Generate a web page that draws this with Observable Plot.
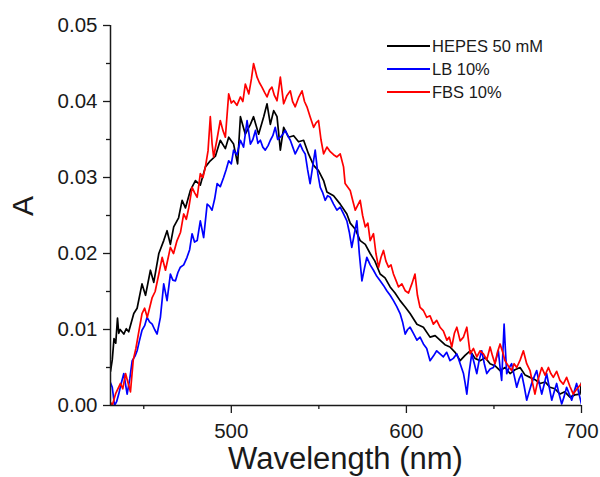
<!DOCTYPE html>
<html><head><meta charset="utf-8">
<script src="https://cdn.jsdelivr.net/npm/d3@7"></script>
<script src="https://cdn.jsdelivr.net/npm/@observablehq/plot@0.6"></script>
<style>
body{margin:0;background:#fff;}
#wrap{position:relative;width:600px;height:477px;font-family:"Liberation Sans",Arial,sans-serif;color:#1a1a1a;overflow:hidden;}
#wrap svg{position:absolute;left:0;top:0;}
.lg{position:absolute;left:387px;height:20px;display:flex;align-items:center;font-size:16.5px;white-space:nowrap;}
.lg span.sw{display:inline-block;width:43px;height:2px;margin-right:2px;}
#xl{position:absolute;left:110px;width:471px;top:443px;text-align:center;font-size:31px;line-height:31px;}
#yl{position:absolute;left:-7.5px;top:188.5px;width:60px;height:34px;line-height:34px;text-align:center;font-size:30px;transform:rotate(-90deg);}
</style></head><body><div id="wrap"></div>
<script>
const seriesNames = ["HEPES 50 mM", "LB 10%", "FBS 10%"];
const seriesColors = ["#000000", "#0000ff", "#ff0000"];
const xLabel = "Wavelength (nm)";
const yLabel = "A";
const xDomain = [431, 700];
const yDomain = [0, 0.05];
const xTicks = [500, 600, 700];
const xMinorTicks = [450, 550, 650];
const yTicks = [0, 0.01, 0.02, 0.03, 0.04, 0.05];
const yMinorTicks = [0.005, 0.015, 0.025, 0.035, 0.045];

const wlHepes = [431,432,433,434,435,435.7,436.5,438.6,440,441.4,444.3,446.2,449,451,453.8,455.7,458.6,461.4,463.3,465.2,467.1,469.9,471.9,473.8,476.6,479.5,482.3,485.2,488,490.9,493.7,496.6,498.5,501.3,503.6,505.2,508,510.9,512.7,515.6,518.5,520.4,522.3,524.2,526.1,528,529.9,532.7,535.6,538.4,541.3,544.1,547,549.8,552.7,554.6,558.4,562.2,566,567.9,570.8,573.6,576.5,579.3,582,585,587.8,590.7,593.5,596.4,599.2,602.1,606,609.7,613.5,616.4,619.2,622,624.9,627.8,630.7,633.5,636.4,639.2,642.1,645,647.8,650.7,653.5,656.4,659.2,662,664.9,667.8,670.6,673.5,676.3,679.2,682,684.8,687.7,690.5,693.4,696.2,699.1,700];
const aHepes = [0.0045,0.0060,0.0088,0.0082,0.0115,0.0095,0.0100,0.0094,0.0101,0.0097,0.0121,0.0128,0.0160,0.0145,0.0178,0.0162,0.0200,0.0217,0.0230,0.0212,0.0235,0.0247,0.0270,0.0260,0.0283,0.0296,0.0290,0.0314,0.0322,0.0328,0.0349,0.0338,0.0353,0.0344,0.0318,0.0380,0.0357,0.0370,0.0380,0.0357,0.0380,0.0397,0.0370,0.0388,0.0380,0.0336,0.0366,0.0353,0.0355,0.0347,0.0349,0.0331,0.0316,0.0309,0.0296,0.0281,0.0276,0.0265,0.0252,0.0240,0.0232,0.0217,0.0212,0.0200,0.0190,0.0173,0.0168,0.0156,0.0148,0.0138,0.0130,0.0121,0.0107,0.0103,0.0090,0.0092,0.0086,0.0080,0.0077,0.0070,0.0059,0.0066,0.0072,0.0062,0.0059,0.0063,0.0055,0.0052,0.0046,0.0050,0.0042,0.0047,0.0050,0.0040,0.0037,0.0034,0.0029,0.0031,0.0024,0.0022,0.0015,0.0018,0.0011,0.0014,0.0015,0.0030];

const wlLB = [431,432,433.3,434.5,435.7,437,438.6,440.5,442,443.4,445,446.2,447.5,449,450.5,451.9,453.3,454.8,456.2,457.6,459.5,461.4,463.3,465.2,466.6,468.1,469.5,470.9,472.8,474.7,476.2,477.6,479,480.5,482.3,484.2,486.2,487.6,489,490.5,491.9,493.7,495.6,497,498.5,500,501.3,503.2,505.2,507,509,510.9,512.3,513.8,515.2,516.6,518,519.4,521,522.3,523.7,525.1,526.5,528,529.4,530.8,532.2,533.7,535.1,536.5,538,539.3,540.8,542.2,543.6,545,546.5,547.9,549.4,550.8,552.2,553.6,555,556.5,558.4,560.3,562.2,564.1,566,567.4,568.8,570.2,571.7,573.1,574.6,576,577.4,579.3,581.2,583.1,585,586.9,588.8,590.7,592.6,594.5,596.4,597.8,599.3,600.7,602.1,604,606,607.8,609.7,611.6,613.5,615.4,617.3,619.2,621.1,623,624.9,626.8,628.8,630.7,632.6,633.5,634.5,635.9,637.3,638.8,640.2,641.6,643,644.5,645.9,647.8,649.7,651.1,652.5,653.5,654.4,655.1,655.8,656.5,657.3,658.7,660.1,661.5,663,664.4,665.8,667.3,668.7,670.1,671.5,673,674.4,675.8,677.3,678.7,680.1,681.5,683,684.4,685.8,687.2,688.7,690.1,691.5,693,694.4,695.8,697.2,698.6,700];
const aLB = [0.0030,0.0024,0.0000,0.0005,0.0015,0.0028,0.0042,0.0015,0.0035,0.0059,0.0065,0.0072,0.0085,0.0099,0.0105,0.0116,0.0110,0.0107,0.0100,0.0094,0.0116,0.0160,0.0138,0.0173,0.0165,0.0164,0.0175,0.0182,0.0185,0.0195,0.0205,0.0226,0.0215,0.0217,0.0243,0.0221,0.0265,0.0262,0.0257,0.0272,0.0292,0.0288,0.0300,0.0310,0.0322,0.0318,0.0336,0.0330,0.0349,0.0340,0.0375,0.0344,0.0350,0.0362,0.0345,0.0349,0.0340,0.0336,0.0342,0.0349,0.0355,0.0366,0.0350,0.0353,0.0357,0.0362,0.0355,0.0349,0.0340,0.0331,0.0338,0.0344,0.0336,0.0331,0.0310,0.0292,0.0315,0.0336,0.0305,0.0287,0.0280,0.0270,0.0276,0.0274,0.0265,0.0257,0.0261,0.0252,0.0243,0.0228,0.0208,0.0225,0.0243,0.0200,0.0164,0.0180,0.0195,0.0185,0.0178,0.0170,0.0164,0.0158,0.0151,0.0145,0.0138,0.0130,0.0121,0.0110,0.0094,0.0100,0.0103,0.0095,0.0086,0.0090,0.0081,0.0075,0.0059,0.0065,0.0072,0.0068,0.0064,0.0070,0.0059,0.0062,0.0068,0.0055,0.0042,0.0030,0.0015,0.0045,0.0068,0.0055,0.0042,0.0060,0.0072,0.0055,0.0042,0.0048,0.0050,0.0060,0.0072,0.0050,0.0033,0.0070,0.0107,0.0075,0.0042,0.0050,0.0055,0.0040,0.0024,0.0035,0.0042,0.0025,0.0007,0.0018,0.0029,0.0038,0.0046,0.0030,0.0015,0.0028,0.0042,0.0025,0.0007,0.0018,0.0029,0.0015,0.0002,0.0012,0.0024,0.0015,0.0007,0.0018,0.0029,0.0015,0.0002];

const wlFBS = [431.5,432,434,436.7,438,439.6,441,442.4,444,445.5,447,449,450.5,452,453.5,454.8,456.5,458.6,460.5,462.4,464,465.2,467,469,471,472.8,474.3,475.7,477.6,479,480.5,482.3,483.8,485.2,486.7,488,489,489.9,491.8,493.7,495.2,496.6,498.5,500,501.3,503.2,505.2,506.6,508,510,511.5,512.7,514.7,516,517.5,519,520.4,521.8,523.2,524.6,526.1,527,528,529.9,531.8,533.7,535,536.5,538.4,540.4,541.8,543.2,545,547,548.4,549.8,551.2,552.7,554.6,556.5,558.4,560.3,562.2,564.1,565,567.9,569.3,570.8,573.6,575,576.5,578,579.3,581.2,582.6,584.1,585.5,586.9,588.3,589.8,591.2,592.6,594,595.5,597.4,599.3,601.2,603.1,604.9,606.3,607.8,609.7,611.6,613.5,615.4,617.3,619.2,621.1,623.1,624.5,625.9,627.4,628.8,630.7,632.6,634.5,636.4,638.3,640.2,642.1,644,645.9,647.8,649.2,650.6,652,653.5,655,656.3,658.2,660.1,661.5,663,665,666.8,668.7,670.6,672,673.4,675.3,677.3,679.2,681.1,682.5,683.9,685.8,687.7,689.6,691.5,693.4,695.3,696.8,698.2,700];
const aFBS = [0.0003,0.0000,0.0016,0.0029,0.0022,0.0042,0.0030,0.0018,0.0060,0.0075,0.0095,0.0121,0.0128,0.0116,0.0130,0.0142,0.0150,0.0173,0.0195,0.0178,0.0195,0.0208,0.0200,0.0217,0.0228,0.0252,0.0245,0.0260,0.0287,0.0280,0.0274,0.0305,0.0300,0.0314,0.0335,0.0380,0.0345,0.0327,0.0350,0.0375,0.0362,0.0353,0.0410,0.0398,0.0401,0.0395,0.0406,0.0400,0.0423,0.0410,0.0430,0.0450,0.0432,0.0425,0.0419,0.0412,0.0406,0.0415,0.0419,0.0408,0.0401,0.0415,0.0432,0.0397,0.0408,0.0414,0.0400,0.0393,0.0405,0.0414,0.0400,0.0393,0.0380,0.0366,0.0372,0.0375,0.0350,0.0331,0.0340,0.0334,0.0330,0.0327,0.0331,0.0314,0.0292,0.0283,0.0270,0.0257,0.0270,0.0250,0.0235,0.0240,0.0217,0.0226,0.0200,0.0182,0.0195,0.0204,0.0190,0.0182,0.0185,0.0173,0.0165,0.0156,0.0160,0.0151,0.0148,0.0160,0.0173,0.0145,0.0129,0.0125,0.0116,0.0118,0.0107,0.0112,0.0103,0.0098,0.0086,0.0090,0.0077,0.0095,0.0103,0.0085,0.0090,0.0103,0.0068,0.0075,0.0064,0.0072,0.0068,0.0060,0.0077,0.0065,0.0055,0.0070,0.0081,0.0070,0.0059,0.0052,0.0046,0.0055,0.0050,0.0060,0.0072,0.0055,0.0046,0.0030,0.0015,0.0035,0.0050,0.0040,0.0050,0.0042,0.0037,0.0045,0.0033,0.0028,0.0037,0.0025,0.0015,0.0020,0.0024,0.0029];

const rows = [];
[[wlHepes, aHepes], [wlLB, aLB], [wlFBS, aFBS]].forEach(([w, a], k) =>
  w.forEach((x, i) => rows.push({series: seriesNames[k], wl: x, a: a[i]})));

const axisColor = "#1a1a1a";
const chart = Plot.plot({
  width: 600, height: 477,
  marginLeft: 110, marginRight: 19, marginTop: 25, marginBottom: 72,
  style: {fontFamily: "'Liberation Sans', Arial, sans-serif", background: "transparent", overflow: "visible"},
  x: {domain: xDomain, label: null},
  y: {domain: yDomain, label: null},
  color: {domain: seriesNames, range: seriesColors},
  marks: [
    Plot.line(rows, {x: "wl", y: "a", z: "series", stroke: "series", strokeWidth: 1.7, clip: true}),
    Plot.axisX(xTicks, {tickSize: 8, tickPadding: 10, fontSize: 20.5, tickFormat: d => String(d), label: null, color: axisColor, strokeWidth: 1.3}),
    Plot.axisX(xMinorTicks, {tickSize: 4, tickFormat: () => "", label: null, color: axisColor, strokeWidth: 1.3}),
    Plot.axisY(yTicks, {tickSize: 7, tickPadding: 6, fontSize: 20.5, tickFormat: d3.format(".2f"), label: null, color: axisColor, strokeWidth: 1.3}),
    Plot.axisY(yMinorTicks, {tickSize: 4, tickFormat: () => "", label: null, color: axisColor, strokeWidth: 1.3}),
    Plot.ruleY([yDomain[0]], {stroke: axisColor, strokeWidth: 1.5}),
    Plot.ruleX([xDomain[0]], {stroke: axisColor, strokeWidth: 1.5})
  ]
});

const wrap = document.getElementById("wrap");
wrap.appendChild(chart);

const legendTops = [46, 69, 92];
seriesNames.forEach((name, i) => {
  const row = document.createElement("div");
  row.className = "lg";
  row.style.top = (legendTops[i] - 10) + "px";
  const sw = document.createElement("span");
  sw.className = "sw";
  sw.style.background = seriesColors[i];
  row.appendChild(sw);
  row.appendChild(document.createTextNode(name));
  wrap.appendChild(row);
});
const xl = document.createElement("div"); xl.id = "xl"; xl.textContent = xLabel; wrap.appendChild(xl);
const yl = document.createElement("div"); yl.id = "yl"; yl.textContent = yLabel; wrap.appendChild(yl);
</script>
</body></html>
